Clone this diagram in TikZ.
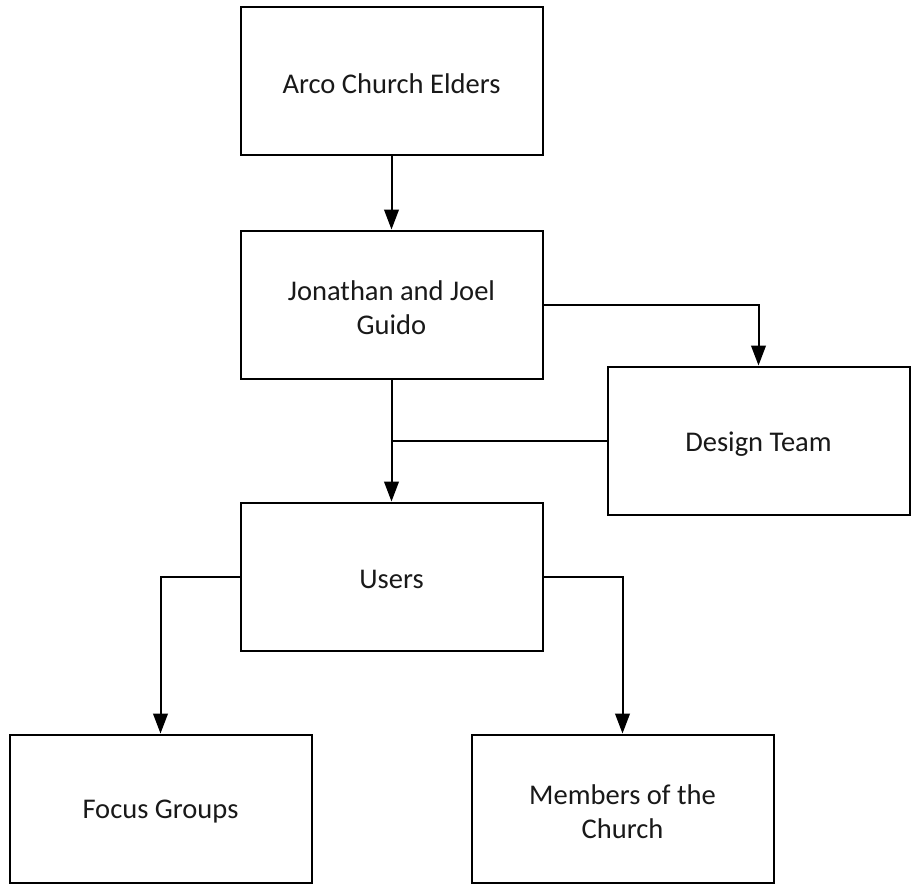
\documentclass[tikz,border=0pt]{standalone}
\usepackage{fontspec}
\setmainfont{Carlito}
\usetikzlibrary{arrows.meta}
\begin{document}
\begin{tikzpicture}[x=0.75pt,y=-0.75pt,
  box/.style={draw=black,line width=1.5pt,minimum width=302*0.75pt,minimum height=148*0.75pt,inner sep=0pt},
  txt/.style={align=center,inner sep=0pt,font=\fontsize{21.4pt}{26pt}\selectfont,text=black!90},
  conn/.style={line width=1.5pt},
  arr/.style={conn,-{Triangle[width=11pt,length=15pt]}}]
\useasboundingbox (0,0) rectangle (916,890);
\fill[white] (0,0) rectangle (916,890);
\node[box] (elders) at (391.5,80.5) {};
\node[box] (jj) at (391.5,304.5) {};
\node[box] (design) at (758.5,440.5) {};
\node[box] (users) at (391.5,576.5) {};
\node[box] (focus) at (160.5,808.5) {};
\node[box] (members) at (622.5,808.5) {};
\node[txt] (t1) at ([yshift=-2.5pt]elders.center) {Arco Church Elders};
\node[txt] (t2) at ([yshift=-2.5pt]jj.center) {Jonathan and Joel\\Guido};
\node[txt] (t3) at ([yshift=-2.5pt]design.center) {Design Team};
\node[txt] (t4) at ([yshift=-2.5pt]users.center) {Users};
\node[txt] (t5) at ([yshift=-2.5pt]focus.center) {Focus Groups};
\node[txt] (t6) at ([yshift=-2.5pt]members.center) {Members of the\\Church};
\draw[arr] (elders.south) -- (jj.north);
\draw[arr] (jj.east) -| (design.north);
\draw[arr] (jj.south) -- (users.north);
\coordinate (join) at (jj.south |- design.west);
\draw[conn] (design.west) -- (join);
\draw[arr] (users.west) -| (focus.north);
\draw[arr] (users.east) -| (members.north);
\end{tikzpicture}
\end{document}
